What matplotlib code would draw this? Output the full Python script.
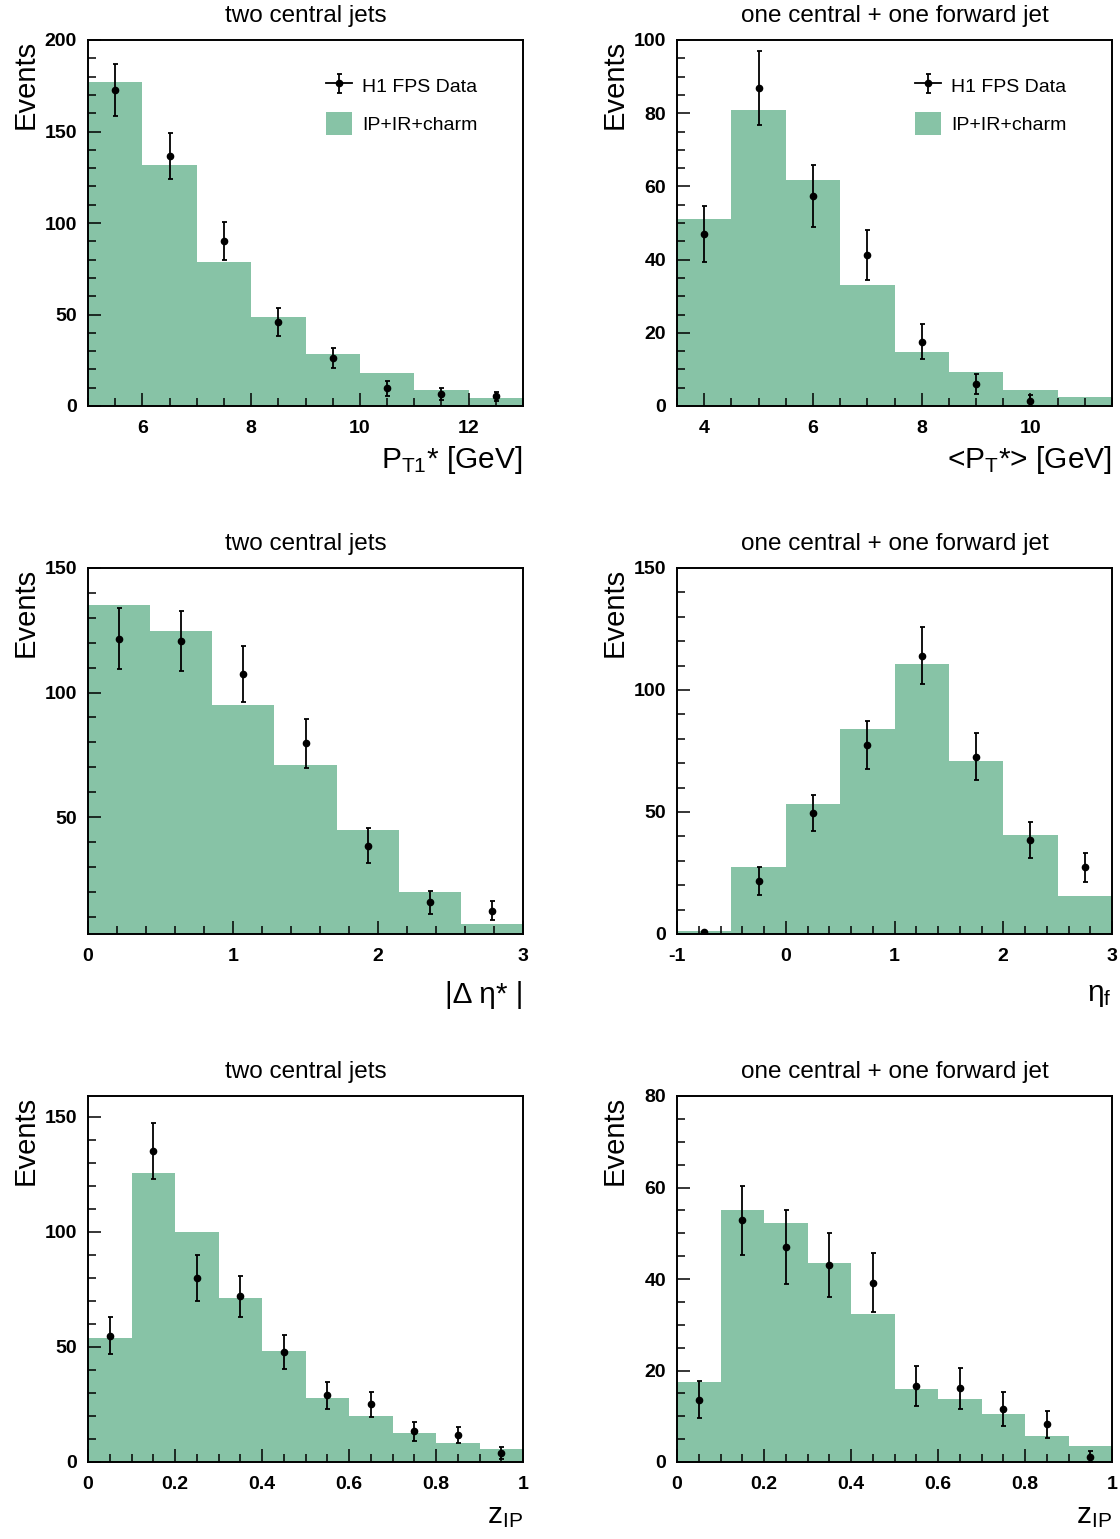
import matplotlib
matplotlib.use("Agg")
import matplotlib.pyplot as plt
import numpy as np
from matplotlib.ticker import MultipleLocator, FuncFormatter
from matplotlib.lines import Line2D
from matplotlib.patches import Patch

plt.rcParams['font.family'] = ['Liberation Sans', 'DejaVu Sans']
plt.rcParams['mathtext.fontset'] = 'custom'
plt.rcParams['mathtext.rm'] = 'Liberation Sans'
plt.rcParams['mathtext.it'] = 'Liberation Sans:italic'
plt.rcParams['mathtext.bf'] = 'Liberation Sans:bold'

GREEN = '#87c3a6'

# P_T1* (two central jets)
pt1_edges = [5, 6, 7, 8, 9, 10, 11, 12, 13]
pt1_mc = [177, 131.6, 78.5, 48.8, 28.6, 18.3, 8.9, 4.2]
pt1_data = [172.6, 136.5, 90.1, 46.1, 26.3, 9.6, 6.7, 5.4]
pt1_err = [14.4, 12.7, 10.5, 7.6, 5.5, 3.9, 3.2, 2.5]

# <P_T*> (central + forward)
pt_edges = [3.5, 4.5, 5.5, 6.5, 7.5, 8.5, 9.5, 10.5, 11.5]
pt_mc = [51.1, 81.0, 61.7, 33.1, 14.8, 9.3, 4.5, 2.4]
pt_data = [47.0, 86.9, 57.3, 41.3, 17.6, 6.0, 1.5]
pt_err = [7.7, 10.0, 8.5, 6.8, 4.7, 2.7, 1.5]

# |delta eta*| (two central jets)
deta_edges = [0, 0.4286, 0.8571, 1.2857, 1.7143, 2.1429, 2.5714, 3.0]
deta_mc = [135.3, 124.6, 94.9, 71.0, 44.7, 20.0, 7.0]
deta_data = [121.7, 120.6, 107.5, 79.6, 38.6, 15.8, 12.5]
deta_err = [12.3, 12.1, 11.3, 9.7, 7.0, 4.5, 3.7]

# eta_f (central + forward)
etaf_edges = [-1, -0.5, 0, 0.5, 1, 1.5, 2, 2.5, 3]
etaf_mc = [1.4, 27.5, 53.2, 84.0, 110.6, 70.8, 40.4, 15.4]
etaf_data = [0.7, 21.8, 49.5, 77.5, 114.1, 72.7, 38.5, 27.3]
etaf_err = [0.7, 5.7, 7.4, 9.8, 11.7, 9.6, 7.4, 5.9]

# z_IP
z_edges = [0, 0.1, 0.2, 0.3, 0.4, 0.5, 0.6, 0.7, 0.8, 0.9, 1.0]
zc_mc = [53.8, 125.6, 100.1, 71.1, 48.1, 27.6, 20.1, 12.4, 8.4, 5.8]
zc_data = [54.9, 135.0, 79.8, 71.9, 47.8, 28.9, 25.0, 13.3, 11.6, 3.9]
zc_err = [8.1, 12.1, 10.0, 8.8, 7.4, 5.7, 5.4, 4.0, 3.5, 2.7]
zf_mc = [17.5, 55.0, 52.3, 43.5, 32.4, 16.0, 13.8, 10.6, 5.7, 3.6]
zf_data = [13.6, 52.8, 47.0, 43.0, 39.2, 16.6, 16.1, 11.5, 8.2, 1.2]
zf_err = [4.0, 7.6, 8.0, 7.0, 6.5, 4.4, 4.5, 3.7, 3.0, 1.3]

W, H = 1120, 1539
fig = plt.figure(figsize=(W / 100, H / 100), dpi=100)

col_left = [88, 677]
row_top = [40, 568, 1096]
aw, ah = 435, 366


def make_ax(r, c):
    l = col_left[c] / W
    b = 1 - (row_top[r] + ah) / H
    return fig.add_axes([l, b, aw / W, ah / H])


def fmt(v, pos):
    return '%g' % v


def draw(ax, edges, mc, data, err, xlim, ylim, xmaj, xmin, ymaj, ymin,
         title, xlabel, xlab_y, legend=False):
    edges = np.array(edges, dtype=float)
    ax.stairs(mc, edges, fill=True, color=GREEN, lw=0, baseline=0)
    centers = 0.5 * (edges[:-1] + edges[1:])[:len(data)]
    eb = ax.errorbar(centers, data, yerr=err, fmt='o', color='black',
                     ms=4.5, elinewidth=1.3, capsize=1.8, capthick=1.3, zorder=3)
    ax.set_xlim(*xlim)
    ax.set_ylim(*ylim)
    ax.xaxis.set_major_locator(MultipleLocator(xmaj))
    ax.xaxis.set_minor_locator(MultipleLocator(xmin))
    ax.yaxis.set_major_locator(MultipleLocator(ymaj))
    ax.yaxis.set_minor_locator(MultipleLocator(ymin))
    ax.xaxis.set_major_formatter(FuncFormatter(fmt))
    ax.tick_params(which='both', direction='in', top=False, right=False,
                   width=1.1, labelsize=14)
    ax.tick_params(which='major', length=9.5)
    ax.tick_params(axis='x', which='major', pad=10)
    ax.tick_params(axis='y', which='major', pad=8)
    ax.tick_params(which='minor', length=5.5)
    for lab in ax.get_xticklabels() + ax.get_yticklabels():
        lab.set_fontweight('bold')
    for s in ax.spines.values():
        s.set_linewidth(1.4)
    ax.set_title(title, fontsize=17.5, pad=13)
    ax.set_ylabel('Events', fontsize=21, loc='top')
    ax.yaxis.set_label_coords(-0.112, 1.0)
    ax.set_xlabel(xlabel, fontsize=21.5, loc='right')
    ax.xaxis.set_label_coords(1.0, xlab_y)
    if legend:
        hline = Line2D([], [], color='black', lw=1.3)
        handles = [(hline, eb), Patch(facecolor=GREEN, edgecolor='none')]
        ax.legend(handles, ['H1 FPS Data', 'IP+IR+charm'], loc='upper left',
                  bbox_to_anchor=(0.546, 0.906), frameon=False, fontsize=14,
                  handlelength=1.35, handleheight=1.45, handletextpad=0.55,
                  labelspacing=0.75, borderpad=0, borderaxespad=0)


ax = make_ax(0, 0)
draw(ax, pt1_edges, pt1_mc, pt1_data, pt1_err, (5, 13), (0, 200), 2, 0.5, 50, 10,
     'two central jets', r'$\mathrm{P}_{\mathrm{T1}}$* [GeV]', -0.103, legend=True)

ax = make_ax(0, 1)
draw(ax, pt_edges, pt_mc, pt_data, pt_err, (3.5, 11.5), (0, 100), 2, 0.5, 20, 5,
     'one central + one forward jet', r'<$\mathrm{P}_{\mathrm{T}}$*> [GeV]', -0.103,
     legend=True)

ax = make_ax(1, 0)
draw(ax, deta_edges, deta_mc, deta_data, deta_err, (0, 3), (3.1, 150), 1, 0.2, 50, 10,
     'two central jets', '|Δ η* |', -0.128)

ax = make_ax(1, 1)
draw(ax, etaf_edges, etaf_mc, etaf_data, etaf_err, (-1, 3), (0, 150), 1, 0.2, 50, 10,
     'one central + one forward jet', r'η$_{\mathrm{f}}$', -0.128)

ax = make_ax(2, 0)
draw(ax, z_edges, zc_mc, zc_data, zc_err, (0, 1), (0, 159), 0.2, 0.05, 50, 10,
     'two central jets', r'z$_{\mathrm{IP}}$', -0.11)

ax = make_ax(2, 1)
draw(ax, z_edges, zf_mc, zf_data, zf_err, (0, 1), (0, 80), 0.2, 0.05, 20, 5,
     'one central + one forward jet', r'z$_{\mathrm{IP}}$', -0.11)

fig.savefig('out.png', dpi=100)
